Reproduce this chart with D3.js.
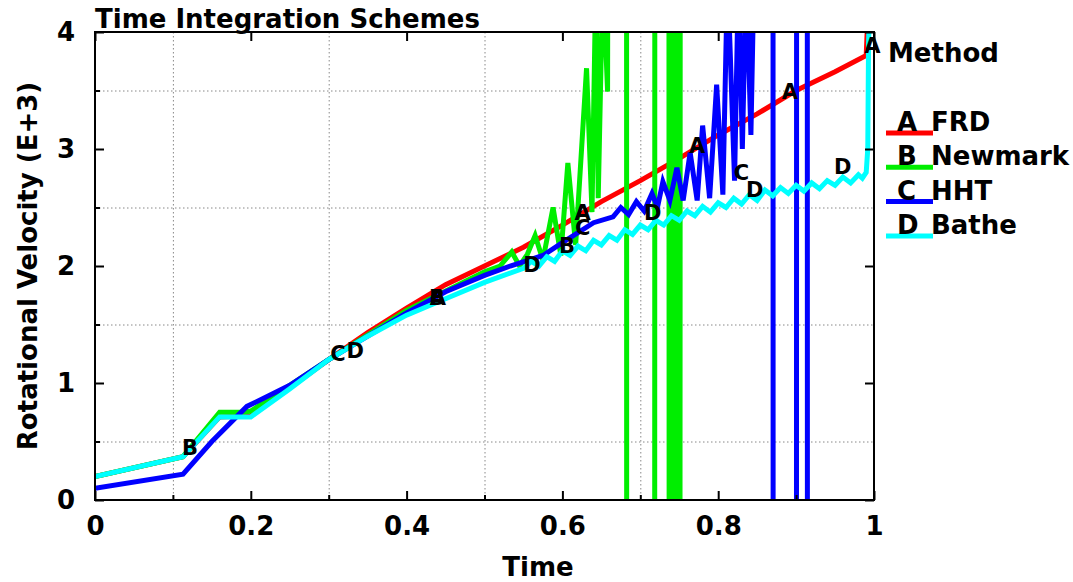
<!DOCTYPE html>
<meta charset="utf-8">
<script src="https://d3js.org/d3.v7.min.js"></script>
<style>
  body { margin: 0; background: #fff; }
  text { font-family: "DejaVu Sans", sans-serif; font-weight: bold; }
</style>
<div id="chart"></div>
<script>
// data (time, rotational velocity E+3)
var frdT = [0, 0.113, 0.16, 0.2, 0.3, 0.35, 0.4, 0.45, 0.5, 0.55, 0.6, 0.65, 0.7, 0.75, 0.8, 0.85, 0.9, 0.95, 0.99, 0.993, 1.0]
var frdV = [0.2, 0.37, 0.71, 0.72, 1.2, 1.43, 1.64, 1.84, 2.0, 2.16, 2.35, 2.55, 2.73, 2.92, 3.12, 3.3, 3.5, 3.66, 3.8, 4.3, 4.3]

var newmarkT = [0, 0.113, 0.16, 0.19, 0.2, 0.3, 0.4, 0.5, 0.52, 0.535, 0.545, 0.555, 0.565, 0.575, 0.588, 0.598, 0.607, 0.617, 0.631, 0.638, 0.643, 0.646, 0.652, 0.658, 0.662, 0.682, 0.683, 0.718, 0.719, 0.736, 0.738, 0.741, 0.744, 0.747, 0.75, 0.752, 1.0]
var newmarkV = [0.2, 0.37, 0.75, 0.75, 0.76, 1.2, 1.62, 1.95, 2.0, 2.12, 2.0, 2.1, 2.26, 2.05, 2.5, 2.09, 2.88, 2.18, 3.69, 2.46, 4.5, 2.58, 4.5, 3.49, 20, 20, -20, -20, 20, 20, -20, 20, -20, 20, -20, 20, 20]

var hhtT = [0, 0.113, 0.15, 0.195, 0.25, 0.3, 0.35, 0.4, 0.45, 0.5, 0.533, 0.575, 0.6, 0.64, 0.665, 0.675, 0.685, 0.695, 0.705, 0.715, 0.722, 0.729, 0.738, 0.747, 0.755, 0.764, 0.773, 0.78, 0.789, 0.798, 0.806, 0.812, 0.821, 0.826, 0.831, 0.836, 0.842, 0.846, 0.85, 0.87, 0.871, 0.9, 0.901, 0.914, 0.915, 1.0]
var hhtV = [0.1, 0.22, 0.5, 0.8, 0.98, 1.2, 1.4, 1.6, 1.78, 1.92, 2.0, 2.09, 2.2, 2.37, 2.42, 2.5, 2.44, 2.55, 2.47, 2.62, 2.5, 2.72, 2.56, 2.84, 2.56, 2.97, 2.56, 3.2, 2.58, 3.55, 2.61, 4.5, 2.73, 4.5, 3.0, 4.5, 3.12, 4.5, 20, 20, -20, -20, 20, 20, -20, -20]

var batheT = [0, 0.113, 0.16, 0.2, 0.25, 0.3, 0.35, 0.4, 0.45, 0.5, 0.55, 0.56, 0.57, 0.58, 0.59, 0.6, 0.61, 0.62, 0.63, 0.64, 0.65, 0.66, 0.67, 0.68, 0.69, 0.7, 0.71, 0.72, 0.73, 0.74, 0.75, 0.76, 0.77, 0.78, 0.79, 0.8, 0.81, 0.82, 0.83, 0.84, 0.85, 0.86, 0.87, 0.88, 0.89, 0.9, 0.91, 0.92, 0.93, 0.94, 0.95, 0.96, 0.97, 0.98, 0.985, 0.99, 0.992, 0.993, 0.995]
var batheV = [0.2, 0.37, 0.71, 0.71, 0.95, 1.2, 1.4, 1.58, 1.72, 1.86, 1.98, 2.04, 2.0, 2.08, 2.04, 2.13, 2.09, 2.17, 2.13, 2.22, 2.18, 2.26, 2.22, 2.31, 2.27, 2.35, 2.31, 2.39, 2.35, 2.43, 2.39, 2.47, 2.43, 2.51, 2.46, 2.54, 2.5, 2.58, 2.53, 2.61, 2.56, 2.65, 2.6, 2.67, 2.62, 2.69, 2.64, 2.71, 2.66, 2.73, 2.69, 2.76, 2.71, 2.78, 2.75, 2.8, 3.0, 3.9, 4.5]

// curve letter markers
var frdMarkT = [0.44, 0.626, 0.773, 0.892, 0.998]
var frdMarkV = [1.73, 2.46, 3.03, 3.49, 3.88]
var newmarkMarkT = [0.122, 0.439, 0.606]
var newmarkMarkV = [0.45, 1.73, 2.17]
var hhtMarkT = [0.312, 0.626, 0.83]
var hhtMarkV = [1.25, 2.33, 2.8]
var batheMarkT = [0.334, 0.561, 0.716, 0.847, 0.96]
var batheMarkV = [1.28, 2.01, 2.46, 2.65, 2.85]

var methodNames = ["FRD", "Newmark", "HHT", "Bathe"]
var methodLetters = ["A", "B", "C", "D"]
var methodColors = ["#ff0000", "#00ee00", "#0000ff", "#00ffff"]

var xTicks = [0, 0.2, 0.4, 0.6, 0.8, 1]
var yTicks = [0, 1, 2, 3, 4]

var series = [
  {t: frdT, v: frdV, mt: frdMarkT, mv: frdMarkV},
  {t: newmarkT, v: newmarkV, mt: newmarkMarkT, mv: newmarkMarkV},
  {t: hhtT, v: hhtV, mt: hhtMarkT, mv: hhtMarkV},
  {t: batheT, v: batheV, mt: batheMarkT, mv: batheMarkV}
]

var width = 1073, height = 582
var pLeft = 95, pRight = 874, pTop = 32, pBottom = 500

var svg = d3.select("#chart").append("svg").attr("width", width).attr("height", height)

var x = d3.scaleLinear().domain([0, 1]).range([pLeft, pRight])
var y = d3.scaleLinear().domain([0, 4]).range([pBottom, pTop])

svg.append("clipPath").attr("id", "plotclip")
  .append("rect").attr("x", pLeft).attr("y", pTop).attr("width", pRight - pLeft).attr("height", pBottom - pTop)

// dotted grid at the minor positions
var gx = [0.1, 0.3, 0.5, 0.7, 0.9]
var gy = [0.5, 1.5, 2.5, 3.5]
var grid = svg.append("g").attr("stroke", "#888").attr("stroke-width", 1).attr("stroke-dasharray", "1.5,2.5")
grid.selectAll("line.gx").data(gx).enter().append("line")
  .attr("x1", function(d){ return x(d) + 0.5 }).attr("x2", function(d){ return x(d) + 0.5 })
  .attr("y1", pTop).attr("y2", pBottom)
grid.selectAll("line.gy").data(gy).enter().append("line")
  .attr("y1", function(d){ return y(d) + 0.5 }).attr("y2", function(d){ return y(d) + 0.5 })
  .attr("x1", pLeft).attr("x2", pRight)

// curves
var line = d3.line().x(function(d){ return x(d[0]) }).y(function(d){ return y(d[1]) })
var curves = svg.append("g").attr("clip-path", "url(#plotclip)")
series.forEach(function(s, i){
  curves.append("path")
    .attr("d", line(d3.zip(s.t, s.v)))
    .attr("fill", "none")
    .attr("stroke", methodColors[i])
    .attr("stroke-width", 5)
})

// axes (ticks inward)
var axisStyle = function(g){
  g.select(".domain").remove()
  g.selectAll("line").attr("stroke", "#000").attr("stroke-width", 2)
  g.selectAll("text").style("font-size", "26px").style("font-weight", "bold").attr("fill", "#000")
}
svg.append("g").attr("transform", "translate(0," + pBottom + ")")
  .call(d3.axisBottom(x).tickValues(xTicks).tickFormat(d3.format("~g")).tickSize(-9).tickPadding(14))
  .call(axisStyle)
  .selectAll("text").attr("dy", "0.8em")
svg.append("g").attr("transform", "translate(" + pLeft + ",0)")
  .call(d3.axisLeft(y).tickValues(yTicks).tickFormat(d3.format("d")).tickSize(-9).tickPadding(20))
  .call(axisStyle)
svg.append("g").attr("transform", "translate(0," + pTop + ")")
  .call(d3.axisTop(x).tickValues(xTicks).tickSize(-9).tickFormat(""))
  .call(axisStyle)
svg.append("g").attr("transform", "translate(" + pRight + ",0)")
  .call(d3.axisRight(y).tickValues(yTicks).tickSize(-9).tickFormat(""))
  .call(axisStyle)
// small minor ticks
svg.append("g").attr("transform", "translate(" + pLeft + ",0)")
  .call(d3.axisLeft(y).tickValues(gy).tickSize(-5).tickFormat(""))
  .call(axisStyle)
svg.append("g").attr("transform", "translate(0," + pBottom + ")")
  .call(d3.axisBottom(x).tickValues(gx).tickSize(-5).tickFormat(""))
  .call(axisStyle)

// frame
svg.append("rect").attr("x", pLeft).attr("y", pTop).attr("width", pRight - pLeft).attr("height", pBottom - pTop)
  .attr("fill", "none").attr("stroke", "#000").attr("stroke-width", 2)

// letter markers
var marks = svg.append("g").style("font-size", "21px").attr("text-anchor", "middle").attr("fill", "#000")
series.forEach(function(s, i){
  marks.selectAll(null).data(d3.zip(s.mt, s.mv)).enter().append("text")
    .attr("x", function(d){ return x(d[0]) })
    .attr("y", function(d){ return y(d[1]) })
    .attr("dy", "0.35em")
    .text(methodLetters[i])
})

// titles
svg.append("text").attr("x", 95).attr("y", 28).style("font-size", "26px").text("Time Integration Schemes")
svg.append("text").attr("x", 538).attr("y", 576).attr("text-anchor", "middle")
  .style("font-size", "26px").text("Time")
svg.append("text").attr("transform", "translate(37," + ((pTop + pBottom) / 2) + ") rotate(-90)")
  .attr("text-anchor", "middle").style("font-size", "26px").text("Rotational Velocity (E+3)")

// legend
var legend = svg.append("g")
legend.append("text").attr("x", 888).attr("y", 62).style("font-size", "26px").text("Method")
methodNames.forEach(function(name, i){
  var ly = 133 + i * 34.3
  legend.append("line").attr("x1", 886).attr("x2", 933).attr("y1", ly).attr("y2", ly)
    .attr("stroke", methodColors[i]).attr("stroke-width", 5)
  legend.append("text").attr("x", 897).attr("y", ly - 2).style("font-size", "26px")
    .text(methodLetters[i])
  legend.append("text").attr("x", 931).attr("y", ly - 2).style("font-size", "26px")
    .text(name)
})
</script>
